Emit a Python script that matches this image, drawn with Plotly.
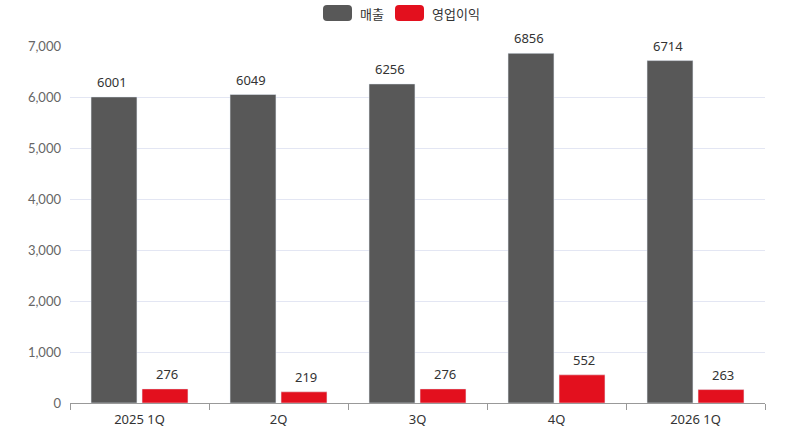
import plotly.graph_objects as go

quarters = ["2025 1Q", "2Q", "3Q", "4Q", "2026 1Q"]
sales = [6001, 6049, 6256, 6856, 6714]
op_profit = [276, 219, 276, 552, 263]

series_names = ["매출", "영업이익"]
series_colors = ["#585858", "#e3101e"]

label_font = "Noto Sans, Noto Sans CJK KR, sans-serif"
axis_font = "Lato, Noto Sans, sans-serif"

fig = go.Figure()
fig.add_bar(x=quarters, y=sales, name=series_names[0], marker_color=series_colors[0])
fig.add_bar(x=quarters, y=op_profit, name=series_names[1], marker_color=series_colors[1])

# value labels sit a bit higher above the bars than plotly's outside text
for q, v in zip(quarters, sales):
    fig.add_annotation(x=q, y=v, text=str(v), showarrow=False, xshift=-28,
                       yanchor="bottom", yshift=4,
                       font=dict(family=label_font, size=13, color="#333333"))
for q, v in zip(quarters, op_profit):
    fig.add_annotation(x=q, y=v, text=str(v), showarrow=False, xshift=27,
                       yanchor="bottom", yshift=4,
                       font=dict(family=label_font, size=13, color="#333333"))

# hand-made legend with rounded swatches (plotly's bar legend is square)
rrect = ("M -10.5,-8 L 10.5,-8 Q 14.5,-8 14.5,-4 L 14.5,4 Q 14.5,8 10.5,8 "
         "L -10.5,8 Q -14.5,8 -14.5,4 L -14.5,-4 Q -14.5,-8 -10.5,-8 Z")
legend_x = [0.3849, 0.4885]
text_x = [0.4144, 0.518]
for name, color, sx, tx in zip(series_names, series_colors, legend_x, text_x):
    fig.add_shape(type="path", path=rrect, xref="paper", yref="paper",
                  xsizemode="pixel", ysizemode="pixel", xanchor=sx, yanchor=1.0924,
                  fillcolor=color, line_width=0)
    fig.add_annotation(x=tx, y=1.0924, xref="paper", yref="paper", text=name,
                       showarrow=False, xanchor="left", yanchor="middle",
                       font=dict(family="Noto Sans CJK KR, sans-serif", size=13, color="#333333"))

fig.update_layout(
    width=800, height=439,
    margin=dict(l=70, r=35, t=46, b=36),
    plot_bgcolor="white", paper_bgcolor="white",
    font=dict(family=axis_font, size=13, color="#555555"),
    barmode="group", bargap=0.266, bargroupgap=0.1,
    showlegend=False,
)
fig.update_xaxes(showline=True, linecolor="#999999", ticks="outside", tickson="boundaries",
                 tickcolor="#999999", ticklen=6, ticklabelstandoff=4,
                 tickfont=dict(family=label_font, color="#333333", size=13))
fig.update_yaxes(range=[0, 7000], dtick=1000, tickformat=",", gridcolor="#e3e6f3",
                 zeroline=False, showline=False, ticks="", ticklabelstandoff=8,
                 tickfont=dict(color="#666666", size=13))

fig.write_html("out.html", config={"displayModeBar": False},
               post_script="document.body.style.margin='0';")
